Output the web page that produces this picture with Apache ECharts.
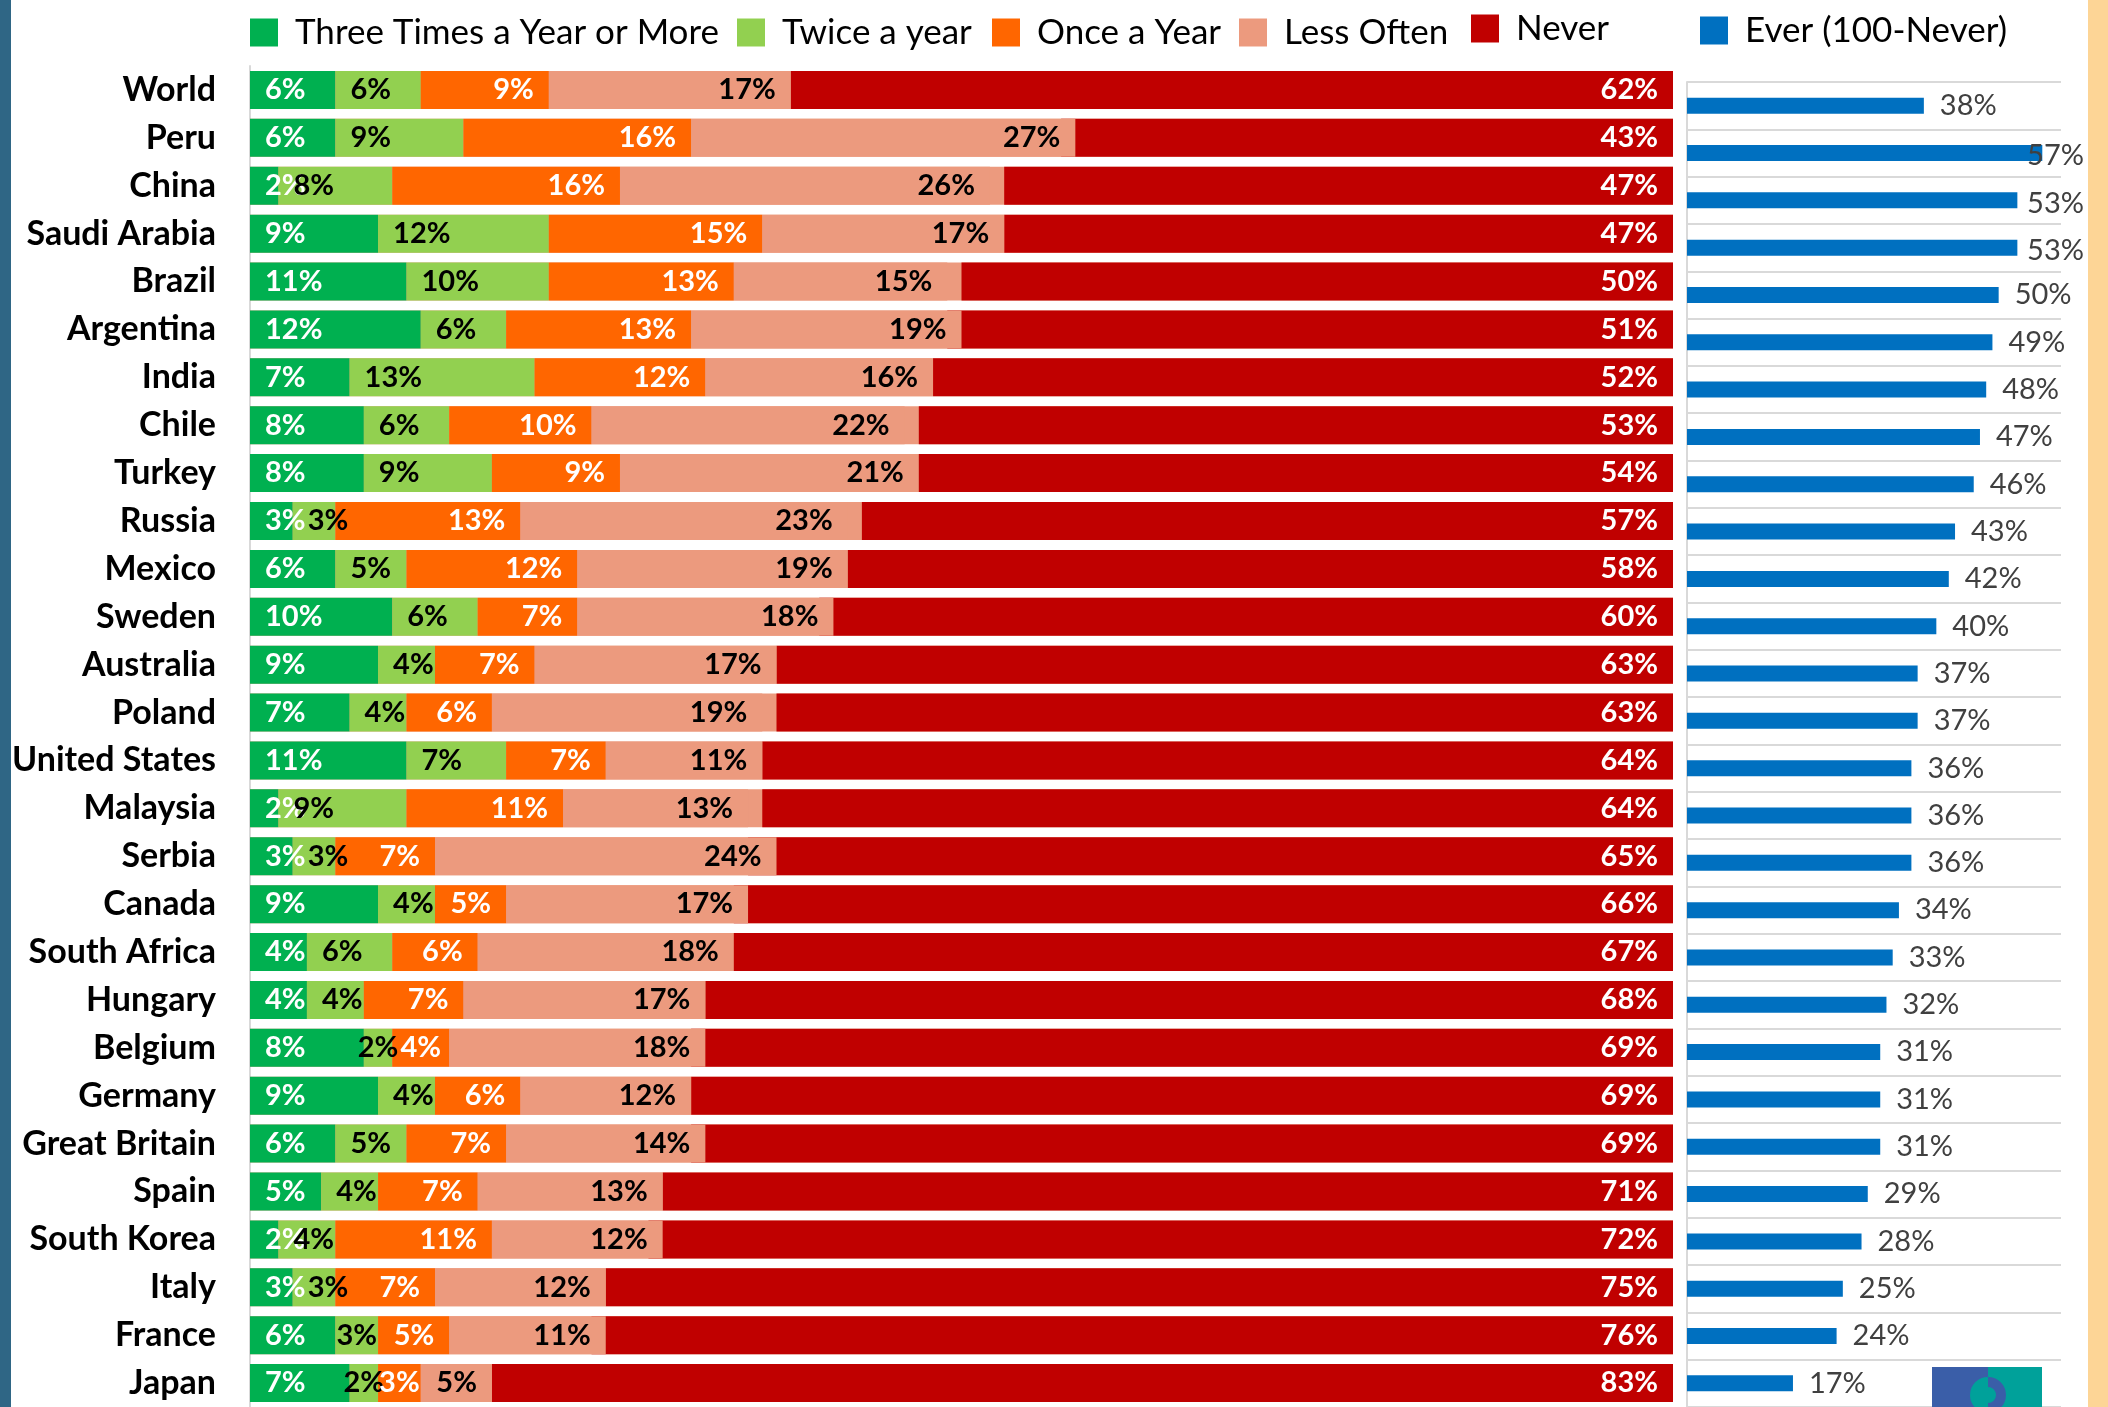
<!DOCTYPE html>
<html>
<head>
<meta charset="utf-8">
<script src="https://cdn.jsdelivr.net/npm/echarts@6/dist/echarts.min.js"></script>
<style>html,body{margin:0;padding:0;background:#fff}#c{width:2108px;height:1407px}</style>
</head>
<body>
<div id="c"></div>
<script>
const categories = ['World','Peru','China','Saudi Arabia','Brazil','Argentina','India','Chile','Turkey','Russia','Mexico','Sweden','Australia','Poland','United States','Malaysia','Serbia','Canada','South Africa','Hungary','Belgium','Germany','Great Britain','Spain','South Korea','Italy','France','Japan'];
const threeTimes = [6,6,2,9,11,12,7,8,8,3,6,10,9,7,11,2,3,9,4,4,8,9,6,5,2,3,6,7];
const twiceYear  = [6,9,8,12,10,6,13,6,9,3,5,6,4,4,7,9,3,4,6,4,2,4,5,4,4,3,3,2];
const onceYear   = [9,16,16,15,13,13,12,10,9,13,12,7,7,6,7,11,7,5,6,7,4,6,7,7,11,7,5,3];
const lessOften  = [17,27,26,17,15,19,16,22,21,23,19,18,17,19,11,13,24,17,18,17,18,12,14,13,12,12,11,5];
const never      = [62,43,47,47,50,51,52,53,54,57,58,60,63,63,64,64,65,66,67,68,69,69,69,71,72,75,76,83];
const ever       = [38,57,53,53,50,49,48,47,46,43,42,40,37,37,36,36,36,34,33,32,31,31,31,29,28,25,24,17];

const names = ['Three Times a Year or More','Twice a year','Once a Year','Less Often','Never','Ever (100-Never)'];
const colors = ['#00b050','#92d050','#ff6600','#ec9a7e','#c00000','#0070c0'];

const chart = echarts.init(document.getElementById('c'));
const FONT = 'Lato';
const labelBase = {show:true, fontFamily:FONT, fontWeight:'bold', fontSize:29, formatter:'{c}%'};

function legendItem(i, left, top, pad){
  return {data:[names[i]], left:left, top:top, padding:0, icon:'rect', itemWidth:28, itemHeight:28,
    textStyle:{fontFamily:FONT, fontSize:35, color:'#000', padding:pad || [0,0,0,12]}};
}

// small segments get a centred label (as the source chart does when the label doesn't fit)
function stackSeries(i, data, labelColor, pos, centreTest){
  const items = data.map((v, k) => (centreTest && centreTest(v, k)) ? {value:v, label:{position:'inside'}} : v);
  return {name:names[i], type:'bar', stack:'freq', xAxisIndex:0, yAxisIndex:0, barWidth:38, barGap:'-100%',
    itemStyle:{color:colors[i]}, data:items,
    label:Object.assign({}, labelBase, {position:pos, distance:15, color:labelColor})};
}

const option = {
  animation:false,
  backgroundColor:'#ffffff',
  color:colors,
  graphic:[
    {type:'rect', left:0, top:0, shape:{width:11, height:1407}, style:{fill:'#2f6685'}, z:-1},
    {type:'rect', left:2088, top:0, shape:{width:20, height:1407}, style:{fill:'#fdd596'}, z:-1},
    {type:'rect', left:2042, top:1362, shape:{width:20, height:8}, style:{fill:'#ffffff'}, z:9},
    {type:'rect', left:1932, top:1367, shape:{width:56, height:40}, style:{fill:'#3a5ea8'}, z:10},
    {type:'rect', left:1988, top:1367, shape:{width:54, height:40}, style:{fill:'#00a19a'}, z:10},
    {type:'sector', shape:{cx:1988, cy:1395, r:18, r0:0, startAngle:Math.PI/2, endAngle:Math.PI*1.5}, style:{fill:'#00a19a'}, z:11},
    {type:'sector', shape:{cx:1988, cy:1395, r:18, r0:8, startAngle:-Math.PI/2, endAngle:Math.PI/2}, style:{fill:'#3a5ea8'}, z:11}
  ],
  legend:[
    legendItem(0, 250, 15),
    legendItem(1, 737, 15),
    legendItem(2, 992, 15),
    legendItem(3, 1239, 15),
    legendItem(4, 1471, 11, [0,0,9,12]),
    legendItem(5, 1700, 13, [6,0,0,12])
  ],
  grid:[
    {left:250, top:66, width:1423, height:1344},
    {left:1687, top:82, width:374, height:1332}
  ],
  xAxis:[
    {gridIndex:0, type:'value', min:0, max:100, show:false},
    {gridIndex:0, type:'value', min:0, max:100, inverse:true, show:false},
    {gridIndex:1, type:'value', min:0, max:60, show:false}
  ],
  yAxis:[
    {gridIndex:0, type:'category', data:categories, inverse:true,
      axisTick:{show:false}, axisLine:{onZero:false, lineStyle:{color:'#d9d9d9', width:2}},
      axisLabel:{fontFamily:FONT, fontWeight:'bold', fontSize:34, color:'#000', margin:34}},
    {gridIndex:1, type:'category', data:categories, inverse:true,
      axisTick:{show:false}, axisLabel:{show:false},
      axisLine:{onZero:false, lineStyle:{color:'#d9d9d9', width:2}},
      splitLine:{show:true, lineStyle:{color:'#d9d9d9', width:2}}}
  ],
  series:[
    {name:names[4], type:'bar', xAxisIndex:1, yAxisIndex:0, barWidth:38, barGap:'-100%',
      itemStyle:{color:colors[4]}, data:never,
      showBackground:true, backgroundStyle:{color:colors[3], opacity:1},
      label:Object.assign({}, labelBase, {position:'insideRight', distance:15, color:'#fff'})},
    stackSeries(0, threeTimes, '#fff', 'insideLeft', null),
    stackSeries(1, twiceYear, '#000', 'insideLeft', (v, k) => v <= 3 && threeTimes[k] >= 6),
    stackSeries(2, onceYear, '#fff', 'insideRight', (v) => v <= 4),
    stackSeries(3, lessOften, '#000', 'insideRight', null),
    {name:names[5], type:'bar', xAxisIndex:2, yAxisIndex:1, barWidth:16,
      itemStyle:{color:colors[5]}, data:ever,
      label:{show:true, position:'right', distance:16, offset:[0,3], formatter:'{c}%',
        fontFamily:FONT, fontSize:29, color:'#404040'},
      labelLayout:function(p){
        const r = p.labelRect;
        if (r.x + r.width > 2084) {
          return {x: 2084 - r.width, y: r.y + r.height / 2, align:'left', verticalAlign:'middle'};
        }
        return {};
      }}
  ]
};
chart.setOption(option);
</script>
</body>
</html>
